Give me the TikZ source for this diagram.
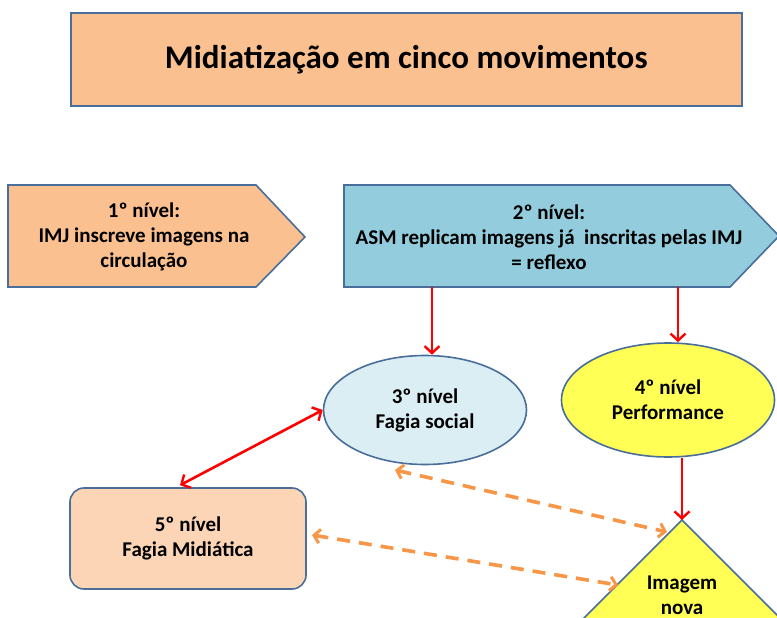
\documentclass[tikz,border=0pt]{standalone}
\usepackage{fontspec}
\setmainfont{Carlito}
\usetikzlibrary{shapes.geometric,arrows.meta}
\definecolor{peach}{HTML}{FAC090}
\definecolor{lpeach}{HTML}{FBD5B5}
\definecolor{sky}{HTML}{93CDDD}
\definecolor{lsky}{HTML}{DBEEF4}
\definecolor{yel}{HTML}{FFFF55}
\definecolor{edge}{HTML}{4A6E9A}
\definecolor{orng}{HTML}{F79646}
\tikzset{
  shapebox/.style={draw=edge,line width=1.6pt,line join=miter},
  txt/.style={font=\bfseries\fontsize{21}{25}\selectfont,align=center,inner sep=0pt},
  redarr/.style={draw=red,line width=2.6pt,-{Straight Barb[length=7pt,width=15pt,line width=2.4pt]}},
  redboth/.style={draw=red,line width=2.6pt,{Straight Barb[length=7pt,width=15pt,line width=2.4pt]}-{Straight Barb[length=7pt,width=15pt,line width=2.4pt]}},
  dashboth/.style={draw=orng,line width=3.6pt,dash pattern=on 13pt off 9pt,{Straight Barb[length=6pt,width=14pt,line width=3pt]}-{Straight Barb[length=6pt,width=14pt,line width=3pt]}},
}
\begin{document}
\begin{tikzpicture}[x=1pt,y=-1pt]
\clip (0,0) rectangle (777,618);
\fill[white] (0,0) rectangle (777,618);
% title
\node[shapebox,fill=peach,minimum width=671pt,minimum height=93pt,inner sep=0pt,anchor=north west,
      font=\bfseries\fontsize{33}{40}\selectfont] (title) at (70,12) {Midiatização em cinco movimentos};
% level 1 pentagon
\filldraw[shapebox,fill=peach] (8,185) -- (256,185) -- (305,237) -- (256,287) -- (8,287) -- cycle;
\node[txt] (n1) at (144,237) {1º nível:\\IMJ inscreve imagens na\\circulação};
% level 2 pentagon
\filldraw[shapebox,fill=sky] (344,185) -- (730,185) -- (779,236) -- (730,287) -- (344,287) -- cycle;
\node[txt] (n2) at (549,237) {2º nível:\\ASM replicam imagens já\ \ inscritas pelas IMJ\\= reflexo};
\coordinate (b2a) at (432,287);
\coordinate (b2b) at (678,287);
% ellipses
\node[shapebox,ellipse,fill=lsky,minimum width=203pt,minimum height=109pt,inner sep=0pt,txt] (e3) at (425,410) {3º nível\\Fagia social};
\node[shapebox,ellipse,fill=yel,minimum width=213pt,minimum height=114pt,inner sep=0pt,txt] (e4) at (668,400) {4º nível\\Performance};
% level 5 box
\node[shapebox,rounded corners=14pt,fill=lpeach,minimum width=236pt,minimum height=101pt,inner sep=0pt,txt] (b5) at (188,538.5) {5º nível\\Fagia Midiática};
% triangle
\coordinate (apex) at (682,520);
\filldraw[shapebox,fill=yel] (apex) -- (810,648) -- (554,648) -- cycle;
\node[txt] (tri) at (682,595) {Imagem\\nova};
% connectors
\draw[redarr] (b2a) -- (b2a |- e3.north);
\draw[redarr] (b2b) -- (b2b |- e4.north);
\draw[redarr] (e4.south -| apex) -- (apex);
\draw[redboth] (b5.north) ++(-8,-2) coordinate (b5t) (b5t) -- (e3.west);
\coordinate (e3b) at (395,470);
\coordinate (t1) at (667,532);
\draw[dashboth] (e3b) -- (t1);
\coordinate (b5r) at (312,535);
\coordinate (t2) at (618,585);
\draw[dashboth] (b5r) -- (t2);
\end{tikzpicture}
\end{document}
